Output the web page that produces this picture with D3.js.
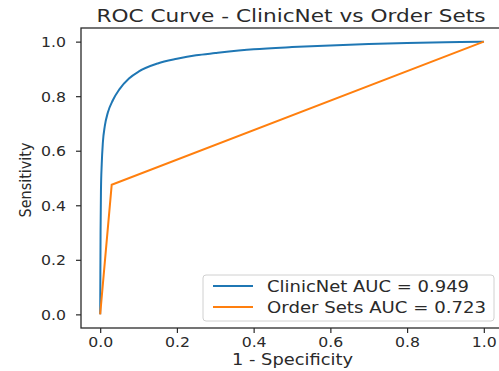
<!DOCTYPE html>
<html><head><meta charset="utf-8">
<script src="https://cdn.jsdelivr.net/npm/d3@7"></script>
<style>body{margin:0;background:#fff}svg{display:block}text{font-family:"DejaVu Sans",sans-serif}</style>
</head><body><svg id="c" width="499" height="371"></svg>
<script>
const titleText = "ROC Curve - ClinicNet vs Order Sets";
const xLabel = "1 - Specificity";
const yLabel = "Sensitivity";
const tickValues = [0, 0.2, 0.4, 0.6, 0.8, 1.0];
const seriesNames = ["ClinicNet AUC = 0.949", "Order Sets AUC = 0.723"];
const clinicFpr = [0, 0.0005, 0.001, 0.002, 0.004, 0.007, 0.012, 0.02, 0.033, 0.05, 0.075, 0.1, 0.15, 0.2, 0.25, 0.3, 0.4, 0.5, 0.6, 0.7, 0.8, 0.9, 1.0];
const clinicTpr = [0, 0.15, 0.3, 0.45, 0.55, 0.63, 0.69, 0.74, 0.785, 0.825, 0.865, 0.89, 0.92, 0.937, 0.95, 0.958, 0.972, 0.98, 0.986, 0.991, 0.995, 0.998, 1.0];
const orderFpr = [0, 0.03, 1.0];
const orderTpr = [0, 0.475, 1.0];
const colors = ["#1f77b4", "#ff7f0e"];

const svg = d3.select("#c");
const L = 81, R = 503, T = 28, B = 328;
const x = d3.scaleLinear().domain([-0.05, 1.05]).range([L, R]);
const y = d3.scaleLinear().domain([-0.05, 1.05]).range([B, T]);

const g = svg.append("g");
const clinic = clinicFpr.map((v, i) => [v, clinicTpr[i]]);
const order = orderFpr.map((v, i) => [v, orderTpr[i]]);
g.append("path").datum(clinic).attr("d", d3.line().x(d => x(d[0])).y(d => y(d[1])).curve(d3.curveMonotoneX))
  .attr("fill", "none").attr("stroke", colors[0]).attr("stroke-width", 2);
g.append("path").datum(order).attr("d", d3.line().x(d => x(d[0])).y(d => y(d[1])))
  .attr("fill", "none").attr("stroke", colors[1]).attr("stroke-width", 2);

// spines
svg.append("rect").attr("x", L).attr("y", T).attr("width", R - L).attr("height", B - T)
  .attr("fill", "none").attr("stroke", "#2a2a2a").attr("stroke-width", 1.3);

const fmt = d3.format(".1f");
const xAxis = svg.append("g").attr("transform", `translate(0,${B})`).call(d3.axisBottom(x).tickValues(tickValues).tickFormat(fmt).tickSize(5));
const yAxis = svg.append("g").attr("transform", `translate(${L},0)`).call(d3.axisLeft(y).tickValues(tickValues).tickFormat(fmt).tickSize(5));
[xAxis, yAxis].forEach(a => {
  a.select(".domain").remove();
  a.selectAll("line").attr("stroke", "#2a2a2a").attr("stroke-width", 1.2);
  a.selectAll("text").attr("font-size", 13.5).attr("fill", "#2a2a2a").attr("font-family", "DejaVu Sans")
    .attr("textLength", 25).attr("lengthAdjust", "spacingAndGlyphs");
});
xAxis.selectAll("text").attr("y", 19).attr("dy", null);
yAxis.selectAll("text").attr("x", -15).attr("dy", "0.36em");

svg.append("text").attr("x", 291).attr("y", 21.5).attr("text-anchor", "middle").attr("font-size", 17).attr("fill", "#2a2a2a")
  .attr("textLength", 389).attr("lengthAdjust", "spacingAndGlyphs").text(titleText);
svg.append("text").attr("x", 292.5).attr("y", 365).attr("text-anchor", "middle").attr("font-size", 15).attr("fill", "#2a2a2a")
  .attr("textLength", 121).attr("lengthAdjust", "spacingAndGlyphs").text(xLabel);
svg.append("text").attr("transform", "translate(31,180) rotate(-90)").attr("text-anchor", "middle").attr("font-size", 16).attr("fill", "#2a2a2a")
  .attr("textLength", 75).attr("lengthAdjust", "spacingAndGlyphs").text(yLabel);

// legend
const legendWidths = [202, 219];
const lg = svg.append("g");
lg.append("rect").attr("x", 203).attr("y", 275).attr("width", 291).attr("height", 46).attr("rx", 3)
  .attr("fill", "#fff").attr("fill-opacity", 0.8).attr("stroke", "#d0d0d0").attr("stroke-width", 1);
seriesNames.forEach((n, i) => {
  const yy = 286 + i * 21;
  lg.append("line").attr("x1", 213).attr("x2", 253).attr("y1", yy).attr("y2", yy).attr("stroke", colors[i]).attr("stroke-width", 2);
  lg.append("text").attr("x", 267).attr("y", yy + 5.5).attr("font-size", 15).attr("fill", "#2a2a2a")
    .attr("textLength", legendWidths[i]).attr("lengthAdjust", "spacingAndGlyphs").text(n);
});
</script></body></html>
